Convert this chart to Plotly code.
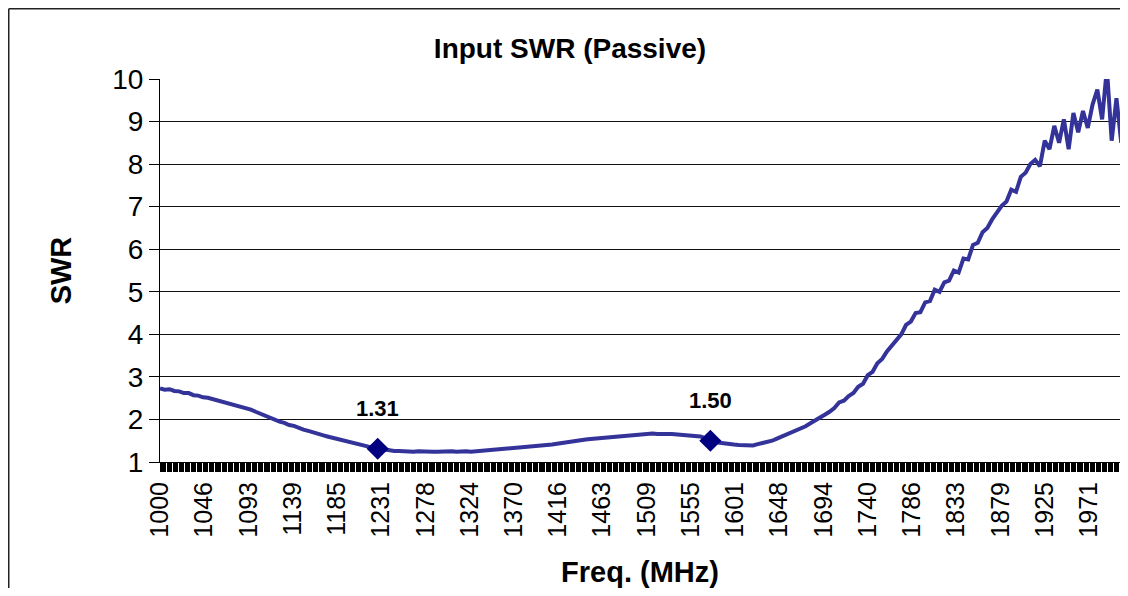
import plotly.graph_objects as go

# ---------------- data ----------------
FREQ_START_MHZ = 1000
FREQ_STEP_MHZ = 5

swr = [
    2.73, 2.70, 2.71, 2.67, 2.66, 2.62, 2.62, 2.57, 2.56, 2.52,   # 1000-1045
    2.51, 2.48, 2.46, 2.41, 2.40, 2.35, 2.34, 2.29, 2.28, 2.23,   # 1050-1095
    2.18, 2.13, 2.09, 2.03, 2.00, 1.95, 1.92, 1.87, 1.85, 1.80,   # 1100-1145
    1.76, 1.73, 1.69, 1.66, 1.63, 1.60, 1.57, 1.55, 1.52, 1.49,   # 1150-1195
    1.46, 1.43, 1.40, 1.38, 1.35, 1.33, 1.31, 1.29, 1.27, 1.26,   # 1200-1245
    1.26, 1.25, 1.25, 1.24, 1.25, 1.24, 1.25, 1.24, 1.24, 1.25,   # 1250-1295
    1.24, 1.25, 1.24, 1.25, 1.25, 1.24, 1.25, 1.26, 1.26, 1.27,   # 1300-1345
    1.28, 1.28, 1.30, 1.31, 1.31, 1.33, 1.34, 1.35, 1.36, 1.37,   # 1350-1395
    1.38, 1.39, 1.41, 1.43, 1.45, 1.47, 1.48, 1.50, 1.51, 1.53,   # 1400-1445
    1.54, 1.55, 1.57, 1.58, 1.59, 1.61, 1.62, 1.63, 1.64, 1.65,   # 1450-1495
    1.65, 1.66, 1.66, 1.67, 1.66, 1.67, 1.66, 1.66, 1.65, 1.65,   # 1500-1545
    1.64, 1.63, 1.62, 1.60, 1.56, 1.51, 1.47, 1.45, 1.43, 1.42,   # 1550-1595
    1.41, 1.40, 1.39, 1.40, 1.39, 1.42, 1.44, 1.47, 1.50, 1.55,   # 1600-1645
    1.60, 1.64, 1.68, 1.73, 1.78, 1.84, 1.91, 1.97, 2.05, 2.11,   # 1650-1695
    2.18, 2.27, 2.40, 2.44, 2.55, 2.62, 2.77, 2.84, 3.04, 3.12,   # 1700-1745
    3.32, 3.42, 3.60, 3.74, 3.88, 4.00, 4.22, 4.30, 4.50, 4.52,   # 1750-1795
    4.75, 4.78, 5.05, 5.00, 5.22, 5.26, 5.50, 5.45, 5.78, 5.76,   # 1800-1845
    6.10, 6.15, 6.40, 6.50, 6.70, 6.85, 7.02, 7.12, 7.40, 7.35,   # 1850-1895
    7.70, 7.80, 8.00, 8.10, 7.95, 8.55, 8.35, 8.90, 8.50, 9.05,   # 1900-1945
    8.35, 9.20, 8.75, 9.25, 8.85, 9.40, 9.75, 9.05, 10.25, 8.55,  # 1950-1995
    9.55, 8.50, 8.95,                                             # 2000-2010
]
freq = [FREQ_START_MHZ + i * FREQ_STEP_MHZ for i in range(len(swr))]

marker_freq = [1227.6, 1575.42]
marker_swr = [1.31, 1.50]

x_tick_values = [1000, 1046.25, 1092.5, 1138.75, 1185, 1231.25, 1277.5, 1323.75,
                 1370, 1416.25, 1462.5, 1508.75, 1555, 1601.25, 1647.5, 1693.75,
                 1740, 1786.25, 1832.5, 1878.75, 1925, 1971.25]
x_tick_labels = ["1000", "1046", "1093", "1139", "1185", "1231", "1278", "1324",
                 "1370", "1416", "1463", "1509", "1555", "1601", "1648", "1694",
                 "1740", "1786", "1833", "1879", "1925", "1971"]
y_tick_values = [1, 2, 3, 4, 5, 6, 7, 8, 9, 10]

# ---------------- figure ----------------
# The page body has an 8px default margin, so the figure is sized to fit
# inside the window and every position is measured from that offset.
FONT = "Arial, Liberation Sans, sans-serif"
W, H = 1112, 580
L, R, T, B = 152, 0, 71, 126

fig = go.Figure()
fig.add_trace(go.Scatter(
    x=freq, y=swr, mode="lines",
    line=dict(color="#333399", width=4),
    showlegend=False, hoverinfo="x+y",
))
fig.add_trace(go.Scatter(
    x=marker_freq, y=marker_swr, mode="markers",
    marker=dict(symbol="diamond", size=17, color="#000080"),
    showlegend=False,
))
for f, v in zip(marker_freq, marker_swr):
    fig.add_annotation(
        x=f, y=v, text=f"<b>{v:.2f}</b>", showarrow=False,
        yshift=40, font=dict(family=FONT, size=22, color="black"),
    )

pw = W - L - R
ph = H - T - B
# outer chart border: only its left and top sides are inside the picture
border = dict(color="#222222", width=1.5)
fig.add_shape(type="line", xref="paper", yref="paper",
              x0=(0.75 - L) / pw, x1=(0.75 - L) / pw,
              y0=-(B + 5) / ph, y1=1 + (T - 0.75) / ph, line=border)
fig.add_shape(type="line", xref="paper", yref="paper",
              x0=(0.75 - L) / pw, x1=(W + 5 - L) / pw,
              y0=1 + (T - 0.75) / ph, y1=1 + (T - 0.75) / ph, line=border)

fig.update_layout(
    width=W, height=H,
    margin=dict(l=L, r=R, t=T, b=B, pad=0),
    paper_bgcolor="white", plot_bgcolor="white",
    font=dict(family=FONT, color="black"),
    title=dict(
        text="Input SWR (Passive)", x=562 / W, xref="container", xanchor="center",
        y=1 - 40 / H, yref="container", yanchor="middle",
        font=dict(family=FONT, size=28, weight="bold", color="black"),
    ),
    xaxis=dict(
        range=[1000, 2003.7], tickmode="array", tickvals=x_tick_values, ticktext=x_tick_labels,
        tickangle=-90, tickfont=dict(family=FONT, size=25, color="black"),
        ticks="outside", ticklen=9, tickcolor="black", tickwidth=1,
        showline=True, linecolor="black", linewidth=1,
        showgrid=False, zeroline=False, automargin=False,
        minor=dict(ticks="outside", ticklen=9, tickcolor="black", tickwidth=1,
                   tickmode="linear", tick0=1000, dtick=1.25, showgrid=False),
        title=dict(text="Freq. (MHz)", standoff=25,
                   font=dict(family=FONT, size=29, weight="bold", color="black")),
    ),
    yaxis=dict(
        range=[1, 10], tickmode="array", tickvals=y_tick_values,
        tickfont=dict(family=FONT, size=28, color="black"),
        ticks="outside", ticklen=10, tickcolor="black", tickwidth=1,
        showline=True, linecolor="black", linewidth=1,
        showgrid=True, gridcolor="#111111", gridwidth=1, zeroline=False, automargin=False,
        title=dict(text="SWR", standoff=32,
                   font=dict(family=FONT, size=29, weight="bold", color="black")),
    ),
)

fig.write_html("out.html")
